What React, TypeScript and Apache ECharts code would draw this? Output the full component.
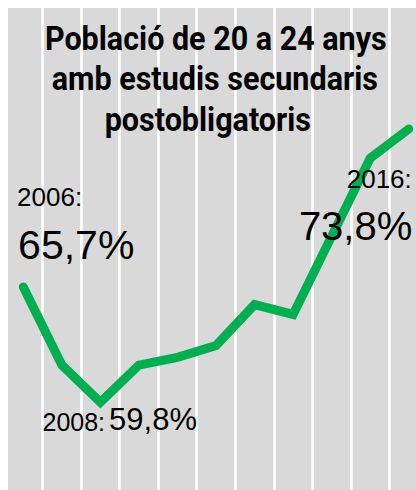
import React, { useEffect, useRef } from "react";
import * as echarts from "echarts";

const years = ["2006", "2007", "2008", "2009", "2010", "2011", "2012", "2013", "2014", "2015", "2016"];
const values = [65.7, 61.7, 59.8, 61.7, 62.1, 62.7, 64.8, 64.3, 68.3, 72.3, 73.8];
const titleLines = ["Població de 20 a 24 anys", "amb estudis secundaris", "postobligatoris"];
const labelFirstYear = "2006:";
const labelFirstValue = "65,7%";
const labelMinYear = "2008:";
const labelMinValue = "59,8%";
const labelLastYear = "2016:";
const labelLastValue = "73,8%";

const OFF = 3.8; // inner chart offset to the left of the visible panel

export default function App() {
  const ref = useRef<HTMLDivElement>(null);
  useEffect(() => {
    if (!ref.current) return;
    const chart = echarts.init(ref.current, undefined, { renderer: "svg" });
    const num = "'Liberation Sans', Arial, sans-serif";
    const titleFont = "Roboto, 'Liberation Sans', sans-serif";
    const titleYs = [31, 71.5, 112];
    const titleXs = [208, 207, 200];
    const txt = (text: string, x: number, y: number, size: number, align: string, sx = 1, family = num, weight: any = "normal") => ({
      type: "text",
      x: x + OFF,
      y,
      scaleX: sx,
      z: 100,
      style: {
        text,
        x: 0,
        y: 0,
        fill: "#000",
        fontSize: size,
        fontFamily: family,
        fontWeight: weight,
        textAlign: align,
        textVerticalAlign: "middle",
      },
    });
    chart.setOption({
      animation: false,
      backgroundColor: "#d9d9d9",
      grid: { left: 0, right: 0, top: 0, bottom: 0, containLabel: false },
      xAxis: {
        type: "category",
        data: years,
        boundaryGap: true,
        axisLine: { show: false },
        axisTick: { show: false },
        axisLabel: { show: false },
        splitLine: { show: true, lineStyle: { color: "#ffffff", width: 2.5 } },
      },
      yAxis: {
        type: "value",
        min: 55.3,
        max: 80,
        show: false,
        splitLine: { show: false },
      },
      series: [
        {
          type: "line",
          data: values,
          symbol: "none",
          lineStyle: { color: "#00b050", width: 9, cap: "round", join: "miter" },
          z: 2,
        },
      ],
      graphic: [
        ...titleLines.map((t, i) => txt(t, titleXs[i], titleYs[i], 33, "center", 0.925, titleFont, "bold")),
        txt(labelFirstYear, 9.3, 189.3, 26, "left"),
        txt(labelFirstValue, 10.3, 236.7, 41, "left"),
        txt(labelLastYear, 404, 171, 26, "right"),
        txt(labelLastValue, 404.5, 218, 40, "right"),
        txt(labelMinYear, 34.7, 414, 25, "left"),
        txt(labelMinValue, 101.3, 411.7, 31, "left"),
      ],
    });
    return () => chart.dispose();
  }, []);
  return (
    <div style={{ position: "absolute", left: 8, top: 8, width: 408, height: 482, overflow: "hidden" }}>
      <div
        ref={ref}
        style={{ position: "absolute", left: -OFF, top: 0, width: 423.5, height: 482 }}
      />
    </div>
  );
}
